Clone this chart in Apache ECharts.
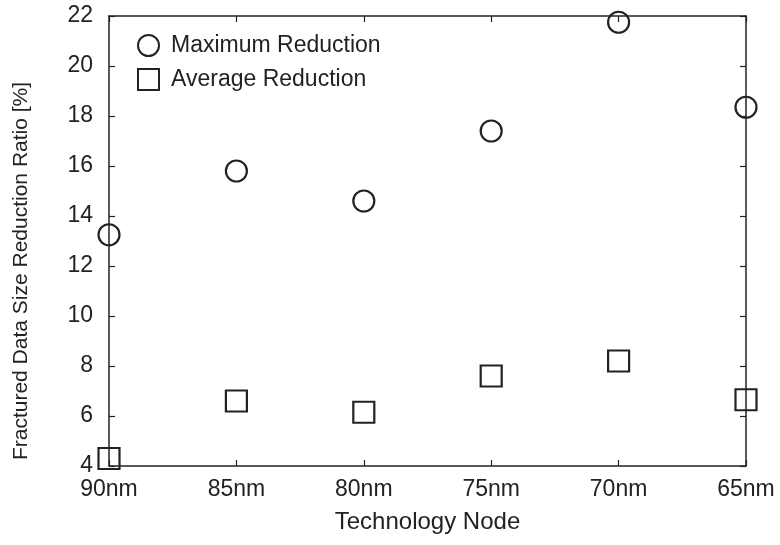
<!DOCTYPE html>
<html>
<head>
<meta charset="utf-8">
<script src="https://cdn.jsdelivr.net/npm/echarts@6/dist/echarts.min.js"></script>
<style>
  html, body { margin: 0; padding: 0; background: #fff; }
  #chart { width: 780px; height: 545px; }
</style>
</head>
<body>
<div id="chart"></div>
<script>
// Technology nodes along the horizontal axis
const nodes = ['90nm', '85nm', '80nm', '75nm', '70nm', '65nm'];
// Reduction ratios in percent
const maxReduction = [13.25, 15.8, 14.6, 17.4, 21.75, 18.35];
const avgReduction = [4.3, 6.6, 6.15, 7.6, 8.2, 6.65];
// Y axis range and step
const yMin = 4, yMax = 22, yStep = 2;

const ink = '#222';
const font = '"Liberation Sans", Arial, Helvetica, sans-serif';
const labelSize = 23;

const chart = echarts.init(document.getElementById('chart'));

const tickStyle = { show: true, inside: true, length: 6, lineStyle: { color: ink, width: 1.2 } };
const lineStyle = { show: true, onZero: false, lineStyle: { color: ink, width: 1.5 } };

chart.setOption({
  animation: false,
  backgroundColor: '#fff',
  textStyle: { fontFamily: font, color: ink },
  grid: { left: 109, right: 34, top: 16, bottom: 79, containLabel: false },
  legend: {
    orient: 'vertical',
    left: 132,
    top: 29,
    itemWidth: 21,
    itemHeight: 21,
    itemGap: 11,
    textStyle: { fontSize: labelSize, lineHeight: 21, color: ink, fontFamily: font, padding: [0, 0, 0, 7] },
    data: [
      { name: 'Maximum Reduction', icon: 'circle',
        itemStyle: { color: '#fff', borderColor: ink, borderWidth: 2 } },
      { name: 'Average Reduction', icon: 'rect',
        itemStyle: { color: '#fff', borderColor: ink, borderWidth: 2 } }
    ]
  },
  xAxis: [
    {
      type: 'category',
      data: nodes,
      boundaryGap: false,
      position: 'bottom',
      axisLine: lineStyle,
      axisTick: tickStyle,
      axisLabel: { fontSize: labelSize, color: ink, margin: 12, fontFamily: font },
      splitLine: { show: false },
      name: 'Technology Node',
      nameLocation: 'middle',
      nameGap: 44,
      nameTextStyle: { fontSize: 24, color: ink, fontFamily: font }
    },
    {
      type: 'category',
      data: nodes,
      boundaryGap: false,
      position: 'top',
      axisLine: lineStyle,
      axisTick: tickStyle,
      axisLabel: { show: false },
      splitLine: { show: false }
    }
  ],
  yAxis: [
    {
      type: 'value',
      min: yMin, max: yMax, interval: yStep,
      position: 'left',
      axisLine: lineStyle,
      axisTick: tickStyle,
      axisLabel: { fontSize: labelSize, color: ink, margin: 16, fontFamily: font },
      splitLine: { show: false },
      name: 'Fractured Data Size Reduction Ratio [%]',
      nameLocation: 'middle',
      nameGap: 77,
      // right padding pushes the rotated title toward the bottom of the axis
      nameTextStyle: { fontSize: 21, color: ink, fontFamily: font, padding: [0, 60, 0, 0] }
    },
    {
      type: 'value',
      min: yMin, max: yMax, interval: yStep,
      position: 'right',
      axisLine: lineStyle,
      axisTick: tickStyle,
      axisLabel: { show: false },
      splitLine: { show: false }
    }
  ],
  series: [
    {
      name: 'Maximum Reduction',
      type: 'scatter',
      symbol: 'circle',
      symbolSize: 21,
      data: maxReduction,
      itemStyle: { color: 'rgba(255,255,255,0)', borderColor: ink, borderWidth: 2.2, opacity: 1 },
      clip: false,
      z: 5
    },
    {
      name: 'Average Reduction',
      type: 'scatter',
      symbol: 'rect',
      symbolSize: 21,
      data: avgReduction,
      itemStyle: { color: 'rgba(255,255,255,0)', borderColor: ink, borderWidth: 2.2, opacity: 1 },
      clip: false,
      z: 5
    }
  ]
});
</script>
</body>
</html>
